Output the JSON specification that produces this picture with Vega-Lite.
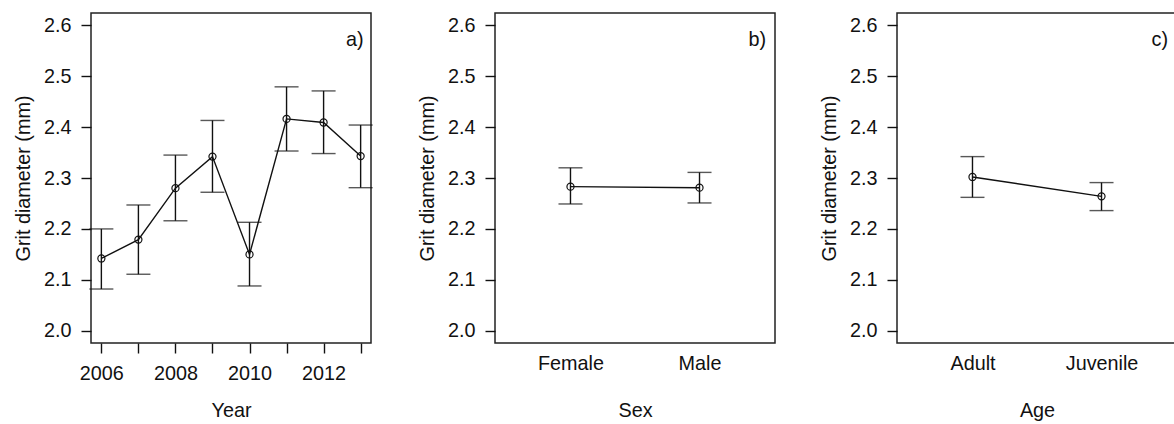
{
  "$schema": "https://vega.github.io/schema/vega-lite/v6.json",
  "padding": {"left": 12, "top": 12, "right": 0, "bottom": 0},
  "spacing": 42,
  "datasets": {
    "year": [
      {"year": 2006, "mean": 2.142, "lower": 2.082, "upper": 2.200},
      {"year": 2007, "mean": 2.179, "lower": 2.111, "upper": 2.247},
      {"year": 2008, "mean": 2.280, "lower": 2.216, "upper": 2.345},
      {"year": 2009, "mean": 2.342, "lower": 2.272, "upper": 2.413},
      {"year": 2010, "mean": 2.150, "lower": 2.088, "upper": 2.213},
      {"year": 2011, "mean": 2.416, "lower": 2.353, "upper": 2.479},
      {"year": 2012, "mean": 2.409, "lower": 2.348, "upper": 2.471},
      {"year": 2013, "mean": 2.343, "lower": 2.281, "upper": 2.404}
    ],
    "sex": [
      {"sex": "Female", "mean": 2.283, "lower": 2.249, "upper": 2.320},
      {"sex": "Male", "mean": 2.281, "lower": 2.251, "upper": 2.311}
    ],
    "age": [
      {"age": "Adult", "mean": 2.302, "lower": 2.262, "upper": 2.342},
      {"age": "Juvenile", "mean": 2.264, "lower": 2.236, "upper": 2.291}
    ]
  },
  "config": {
    "font": "Liberation Sans",
    "view": {"stroke": "#222", "strokeWidth": 1.5},
    "axis": {
      "grid": false,
      "domain": false,
      "tickColor": "#111",
      "tickWidth": 1.4,
      "tickSize": 10,
      "labelFontSize": 19.8,
      "labelColor": "#111",
      "labelPadding": 10,
      "labelFlush": false,
      "labelOverlap": false,
      "titleFontSize": 19.8,
      "titleFontWeight": "normal",
      "titleColor": "#111"
    },
    "axisY": {"titlePadding": 10},
    "axisX": {"titlePadding": 18},
    "title": {"fontSize": 19.8, "fontWeight": "normal", "color": "#111", "anchor": "end", "dx": -9, "offset": -37, "baseline": "alphabetic"}
  },
  "hconcat": [
    {
      "width": 280,
      "height": 330,
      "title": {"text": "a)"},
      "data": {"name": "year"},
      "encoding": {
        "x": {
          "field": "year",
          "type": "quantitative",
          "title": "Year",
          "scale": {"domain": [2005.72, 2013.28], "nice": false, "zero": false},
          "axis": {
            "values": [2006, 2007, 2008, 2009, 2010, 2011, 2012, 2013],
            "format": "d",
            "labelExpr": "datum.value % 2 === 0 ? datum.label : ''"
          }
        }
      },
      "layer": [
        {
          "mark": {"type": "rule", "color": "#111", "strokeWidth": 1.4},
          "encoding": {
            "y": {"field": "lower", "type": "quantitative", "title": "Grit diameter (mm)",
                  "scale": {"domain": [1.976, 2.624], "nice": false, "zero": false},
                  "axis": {"values": [2.0, 2.1, 2.2, 2.3, 2.4, 2.5, 2.6], "format": ".1f"}},
            "y2": {"field": "upper"}
          }
        },
        {
          "mark": {"type": "tick", "orient": "horizontal", "color": "#111", "size": 24, "thickness": 1.4},
          "encoding": {"y": {"field": "upper", "type": "quantitative", "title": "Grit diameter (mm)"}}
        },
        {
          "mark": {"type": "tick", "orient": "horizontal", "color": "#111", "size": 24, "thickness": 1.4},
          "encoding": {"y": {"field": "lower", "type": "quantitative", "title": "Grit diameter (mm)"}}
        },
        {
          "mark": {"type": "line", "color": "#111", "strokeWidth": 1.4},
          "encoding": {"y": {"field": "mean", "type": "quantitative", "title": "Grit diameter (mm)"}}
        },
        {
          "mark": {"type": "point", "shape": "circle", "filled": false, "color": "#111", "size": 50, "strokeWidth": 1.2, "opacity": 1},
          "encoding": {"y": {"field": "mean", "type": "quantitative", "title": "Grit diameter (mm)"}}
        }
      ]
    },
    {
      "width": 280,
      "height": 330,
      "title": {"text": "b)"},
      "data": {"name": "sex"},
      "encoding": {
        "x": {
          "field": "sex",
          "type": "nominal",
          "title": "Sex",
          "scale": {"type": "point", "padding": 0.585},
          "axis": {"ticks": false, "tickSize": 0, "labelAngle": 0, "titlePadding": 28}
        }
      },
      "layer": [
        {
          "mark": {"type": "rule", "color": "#111", "strokeWidth": 1.4},
          "encoding": {
            "y": {"field": "lower", "type": "quantitative", "title": "Grit diameter (mm)",
                  "scale": {"domain": [1.976, 2.624], "nice": false, "zero": false},
                  "axis": {"values": [2.0, 2.1, 2.2, 2.3, 2.4, 2.5, 2.6], "format": ".1f"}},
            "y2": {"field": "upper"}
          }
        },
        {
          "mark": {"type": "tick", "orient": "horizontal", "color": "#111", "size": 24, "thickness": 1.4},
          "encoding": {"y": {"field": "upper", "type": "quantitative", "title": "Grit diameter (mm)"}}
        },
        {
          "mark": {"type": "tick", "orient": "horizontal", "color": "#111", "size": 24, "thickness": 1.4},
          "encoding": {"y": {"field": "lower", "type": "quantitative", "title": "Grit diameter (mm)"}}
        },
        {
          "mark": {"type": "line", "color": "#111", "strokeWidth": 1.4},
          "encoding": {"y": {"field": "mean", "type": "quantitative", "title": "Grit diameter (mm)"}}
        },
        {
          "mark": {"type": "point", "shape": "circle", "filled": false, "color": "#111", "size": 50, "strokeWidth": 1.2, "opacity": 1},
          "encoding": {"y": {"field": "mean", "type": "quantitative", "title": "Grit diameter (mm)"}}
        }
      ]
    },
    {
      "width": 280,
      "height": 330,
      "title": {"text": "c)"},
      "data": {"name": "age"},
      "encoding": {
        "x": {
          "field": "age",
          "type": "nominal",
          "title": "Age",
          "scale": {"type": "point", "padding": 0.585},
          "axis": {"ticks": false, "tickSize": 0, "labelAngle": 0, "titlePadding": 28}
        }
      },
      "layer": [
        {
          "mark": {"type": "rule", "color": "#111", "strokeWidth": 1.4},
          "encoding": {
            "y": {"field": "lower", "type": "quantitative", "title": "Grit diameter (mm)",
                  "scale": {"domain": [1.976, 2.624], "nice": false, "zero": false},
                  "axis": {"values": [2.0, 2.1, 2.2, 2.3, 2.4, 2.5, 2.6], "format": ".1f"}},
            "y2": {"field": "upper"}
          }
        },
        {
          "mark": {"type": "tick", "orient": "horizontal", "color": "#111", "size": 24, "thickness": 1.4},
          "encoding": {"y": {"field": "upper", "type": "quantitative", "title": "Grit diameter (mm)"}}
        },
        {
          "mark": {"type": "tick", "orient": "horizontal", "color": "#111", "size": 24, "thickness": 1.4},
          "encoding": {"y": {"field": "lower", "type": "quantitative", "title": "Grit diameter (mm)"}}
        },
        {
          "mark": {"type": "line", "color": "#111", "strokeWidth": 1.4},
          "encoding": {"y": {"field": "mean", "type": "quantitative", "title": "Grit diameter (mm)"}}
        },
        {
          "mark": {"type": "point", "shape": "circle", "filled": false, "color": "#111", "size": 50, "strokeWidth": 1.2, "opacity": 1},
          "encoding": {"y": {"field": "mean", "type": "quantitative", "title": "Grit diameter (mm)"}}
        }
      ]
    }
  ]
}
